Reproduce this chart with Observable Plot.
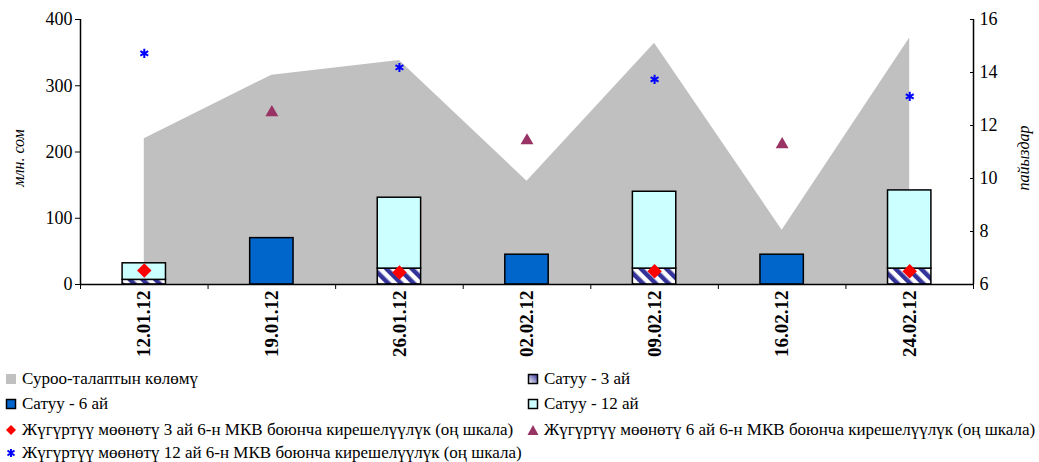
<!DOCTYPE html>
<html><head><meta charset="utf-8">
<script src="https://cdn.jsdelivr.net/npm/d3@7"></script>
<script src="https://cdn.jsdelivr.net/npm/@observablehq/plot@0.6"></script>
<style>
body{margin:0;background:#fff;font-family:'Liberation Serif','DejaVu Serif',serif;color:#000;}
#chart svg{display:block;}
#chart svg text{font-family:'Liberation Serif','DejaVu Serif',serif;}
#legend{position:relative;height:96px;font-size:17px;}
.item{position:absolute;display:flex;align-items:center;white-space:nowrap;height:25px;}
.sw{display:inline-block;margin-right:5px;}
</style></head><body><div id="chart"></div><div id="legend"></div>
<script>
const dates = ["12.01.12","19.01.12","26.01.12","02.02.12","09.02.12","16.02.12","24.02.12"];
const demand = [220, 316, 338, 156, 364, 82, 372];
const sale3m = [7, 0, 24, 0, 24, 0, 24];
const sale6m = [0, 70, 0, 45, 0, 45, 0];
const sale12m = [25, 0, 107, 0, 116, 0, 118];
const yield3m = [6.53, null, 6.45, null, 6.5, null, 6.5];
const yield6m = [null, 12.49, null, 11.43, null, 11.28, null];
const yield12m = [14.72, null, 14.19, null, 13.74, null, 13.1];
const leftTicks = [0, 100, 200, 300, 400];
const rightTicks = [6, 8, 10, 12, 14, 16];
const seriesNames = [
  "Суроо-талаптын көлөмү",
  "Сатуу - 3 ай",
  "Сатуу - 6 ай",
  "Сатуу - 12 ай",
  "Жүгүртүү мөөнөтү 3 ай 6-н МКВ боюнча кирешелүүлүк (оң шкала)",
  "Жүгүртүү мөөнөтү 6 ай 6-н МКВ боюнча кирешелүүлүк (оң шкала)",
  "Жүгүртүү мөөнөтү 12 ай 6-н МКВ боюнча кирешелүүлүк (оң шкала)"
];

const rightDomain = [6, 16], leftDomain = [0, 400];
const toLeft = v => leftDomain[0] + (v - rightDomain[0]) * (leftDomain[1] - leftDomain[0]) / (rightDomain[1] - rightDomain[0]);
const fromLeft = v => rightDomain[0] + (v - leftDomain[0]) * (rightDomain[1] - rightDomain[0]) / (leftDomain[1] - leftDomain[0]);

const rows = dates.map((d, i) => ({
  i, date: d, demand: demand[i], s3: sale3m[i], s6: sale6m[i], s12: sale12m[i],
  y3: yield3m[i], y6: yield6m[i], y12: yield12m[i]
}));
const hw = 0.17; // bar half width in band units
const boundaries = d3.range(-0.5, dates.length, 1);

const C = {area:"#c0c0c0", s6:"#0066cc", s12:"#ccffff", hatch:"#333399", y3:"#ff0000", y6:"#993366", y12:"#0000ff"};
const FONT = "'Liberation Serif','DejaVu Serif',serif";

const plot = Plot.plot({
  width: 1039, height: 366,
  marginLeft: 80, marginRight: 66, marginTop: 19, marginBottom: 82,
  style: {fontFamily: FONT, fontSize: "18px", color: "#000", background: "#fff"},
  x: {type: "linear", domain: [-0.5, dates.length - 0.5]},
  y: {domain: leftDomain},
  marks: [
    Plot.areaY(rows, {x: "i", y: "demand", fill: C.area}),
    Plot.rectY(rows.filter(r => r.s3 > 0), {x1: r => r.i - hw, x2: r => r.i + hw, y1: 0, y2: "s3", fill: "url(#hatch3)", stroke: "#000", strokeWidth: 1.5}),
    Plot.rectY(rows.filter(r => r.s12 > 0), {x1: r => r.i - hw, x2: r => r.i + hw, y1: "s3", y2: r => r.s3 + r.s12, fill: C.s12, stroke: "#000", strokeWidth: 1.5}),
    Plot.rectY(rows.filter(r => r.s6 > 0), {x1: r => r.i - hw, x2: r => r.i + hw, y1: 0, y2: "s6", fill: C.s6, stroke: "#000", strokeWidth: 1.5}),
    Plot.dot(rows.filter(r => r.y3 != null), {x: "i", y: r => toLeft(r.y3), symbol: "diamond2", r: 6.5, fill: C.y3}),
    Plot.dot(rows.filter(r => r.y6 != null), {x: "i", y: r => toLeft(r.y6), symbol: "triangle", r: 4.8, fill: C.y6}),
    Plot.dot(rows.filter(r => r.y12 != null), {x: "i", y: r => toLeft(r.y12), symbol: "asterisk", r: 4.3, stroke: C.y12, strokeWidth: 2}),
    Plot.axisY({anchor: "left", ticks: leftTicks, tickSize: 5, tickPadding: 3, label: null, fontSize: 18}),
    Plot.ruleX([-0.5], {y1: 0, y2: 400, stroke: "#000", strokeWidth: 1.5}),
    Plot.axisY({anchor: "right", ticks: rightTicks.map(toLeft), tickFormat: d => String(Math.round(fromLeft(d))), tickSize: 0, tickPadding: 6, label: null, fontSize: 18}),
    Plot.axisY({anchor: "right", ticks: rightTicks.map(toLeft), tickFormat: () => "", tickSize: 4, dx: -4, label: null}),
    Plot.ruleX([dates.length - 0.5], {y1: 0, y2: 400, stroke: "#000", strokeWidth: 1.5}),
    Plot.ruleY([0], {stroke: "#000", strokeWidth: 1.5}),
    Plot.axisX({ticks: boundaries, tickFormat: () => "", tickSize: 5, label: null}),
    Plot.axisX({ticks: d3.range(dates.length), tickFormat: i => dates[i], tickSize: 0, tickPadding: 6, tickRotate: -90, fontSize: 19, fontWeight: "bold", label: null}),
    Plot.text(["млн. сом"], {frameAnchor: "left", dx: -62, dy: 6, rotate: -90, textAnchor: "middle", fontStyle: "italic", fontSize: 16}),
    Plot.text(["пайыздар"], {frameAnchor: "right", dx: 50, dy: 6, rotate: -90, textAnchor: "middle", fontStyle: "italic", fontSize: 16})
  ]
});

// hatch pattern
const svg = d3.select(plot);
const defs = svg.insert("defs", ":first-child");
const pat = defs.append("pattern").attr("id", "hatch3").attr("patternUnits", "userSpaceOnUse")
  .attr("width", 9).attr("height", 9).attr("patternTransform", "rotate(-45)");
pat.append("rect").attr("width", 9).attr("height", 9).attr("fill", "#fff");
pat.append("rect").attr("width", 4.5).attr("height", 9).attr("fill", C.hatch);

document.getElementById("chart").appendChild(plot);

// legend
const L = document.getElementById("legend");
function sw(kind) {
  const s = document.createElementNS("http://www.w3.org/2000/svg", "svg");
  s.setAttribute("width", 12); s.setAttribute("height", 12); s.setAttribute("class", "sw");
  let inner = "";
  if (kind === "area") inner = `<rect x="1" y="1" width="10" height="10" fill="${C.area}"/>`;
  if (kind === "s3") inner = `<defs><linearGradient id="lg3" x1="0" y1="1" x2="1" y2="0"><stop offset="0" stop-color="#fff"/><stop offset="1" stop-color="${C.hatch}"/></linearGradient></defs><rect x="1.5" y="1.5" width="9" height="9" fill="url(#lg3)" stroke="#000" stroke-width="1.5"/>`;
  if (kind === "s6") inner = `<rect x="1.5" y="1.5" width="9" height="9" fill="${C.s6}" stroke="#000" stroke-width="1.5"/>`;
  if (kind === "s12") inner = `<rect x="1.5" y="1.5" width="9" height="9" fill="${C.s12}" stroke="#000" stroke-width="1.5"/>`;
  if (kind === "y3") inner = `<path d="M6,1 L11,6 L6,11 L1,6Z" fill="${C.y3}"/>`;
  if (kind === "y6") inner = `<path d="M6,1 L11.5,11 L0.5,11Z" fill="${C.y6}"/>`;
  if (kind === "y12") inner = `<g stroke="${C.y12}" stroke-width="2"><path d="M6,2V10M2.5,3.5L9.5,8.5M9.5,3.5L2.5,8.5"/></g>`;
  s.innerHTML = inner;
  return s;
}
const items = [
  ["area", 0, 5, 0], ["s3", 1, 527, 0],
  ["s6", 2, 5, 1], ["s12", 3, 527, 1],
  ["y3", 4, 5, 2], ["y6", 5, 527, 2],
  ["y12", 6, 5, 3]
];
const rowY = [0, 25, 51, 74];
items.forEach(([k, n, x, r]) => {
  const d = document.createElement("div");
  d.className = "item";
  d.style.left = x + "px"; d.style.top = rowY[r] + "px";
  d.appendChild(sw(k));
  d.appendChild(document.createTextNode(seriesNames[n]));
  L.appendChild(d);
});
</script></body></html>
